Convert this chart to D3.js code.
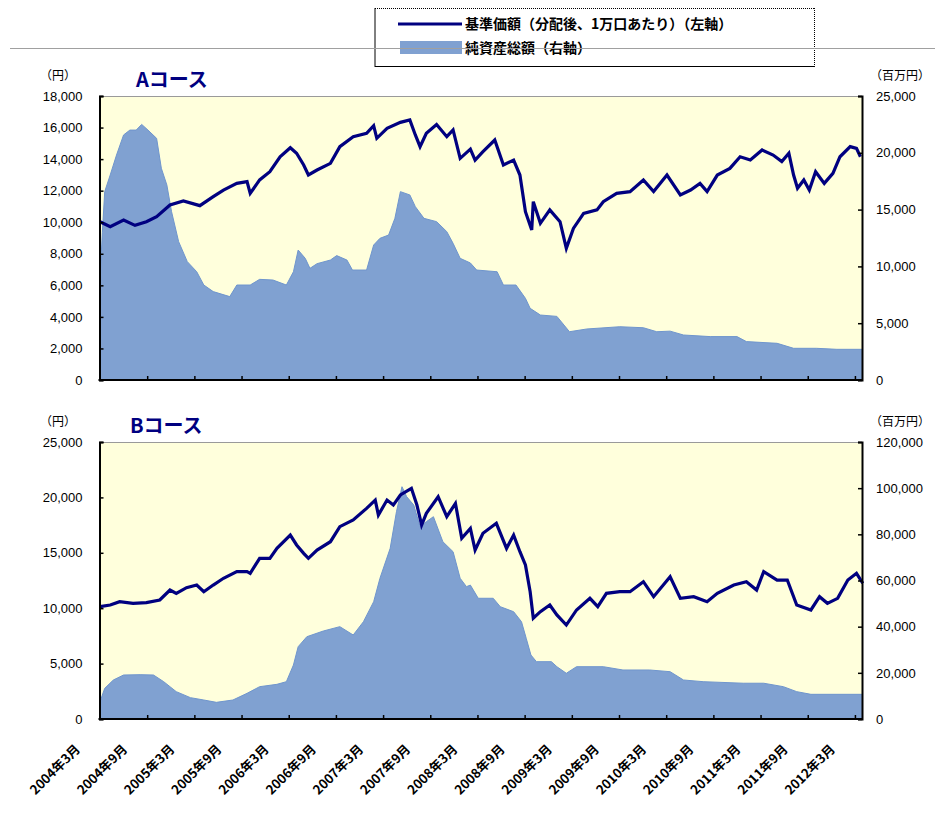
<!DOCTYPE html>
<html><head><meta charset="utf-8">
<script src="https://cdn.jsdelivr.net/npm/d3@7"></script>
<style>
body{margin:0;background:#fff;}
svg{display:block;}
</style></head>
<body><svg id="c" width="943" height="819"></svg>
<script>
// ---- data (x = months elapsed since 2004年3月) ----
const tickLabels = ["2004年3月","2004年9月","2005年3月","2005年9月","2006年3月","2006年9月","2007年3月","2007年9月","2008年3月","2008年9月","2009年3月","2009年9月","2010年3月","2010年9月","2011年3月","2011年9月","2012年3月"];

const navA_m = [0,1.3,3,4.45,5.9,7.2,8.9,10.6,12.7,14.4,15.7,17.4,18.7,19.1,20.3,21.6,22.9,24.2,25,25.9,26.5,27.6,29.3,30.5,32.2,33.9,34.8,35.2,36.5,38.2,39.4,40.1,40.7,41.5,42.8,44.1,44.9,45.8,47.1,47.7,48.7,50.2,51.3,52.6,53.4,54.1,54.9,55.1,56,57.2,58.5,59.3,60.2,61.5,63.2,64,65.7,67.4,69.1,70.4,72.1,73.8,75.1,76.3,77.2,78.5,80.1,81.4,82.7,84.2,85.6,86.7,87.6,88.2,88.7,89.5,90.2,91,92.1,93.2,94.1,95.4,96.2,96.7];
const navA = [10030,9720,10140,9800,10030,10350,11090,11350,11050,11620,12040,12460,12570,11830,12680,13200,14150,14720,14370,13630,13000,13310,13730,14790,15420,15640,16120,15320,15950,16330,16480,15530,14790,15640,16190,15420,15850,14050,14630,13940,14470,15210,13630,13940,12990,10670,9510,11300,9930,10780,10030,8350,9610,10560,10780,11300,11830,11940,12680,11940,12990,11730,12040,12460,11940,12990,13410,14150,13940,14580,14260,13840,14370,12990,12150,12680,12040,13200,12460,13100,14150,14790,14680,14150];

const assetA_m = [0,0.3,0.6,1.3,2.1,3,3.8,4.6,5.3,6.1,7.2,7.8,8.5,9.1,10,11.1,12.3,13.2,14.4,16.5,17.4,19.1,20.3,22,23.7,24.6,25.2,26.1,26.7,27.6,29.3,30.1,31.4,32.1,33.9,34.8,35.6,36.7,37.5,38.2,39.4,40.1,41.2,42.8,44.1,44.9,45.8,47.1,47.9,50.5,51.3,52.9,54.1,54.7,56,58.1,59,59.7,61.9,66.1,69.1,70.8,72.5,74.2,77.6,81,82.2,86.1,88.2,91.1,93.7,96.9];
const assetA = [8950,13000,16580,18050,19800,21570,22000,22000,22500,22000,21270,18640,17170,14820,12180,10420,9530,8360,7780,7340,8360,8360,8860,8800,8360,9530,11440,10710,9830,10240,10560,10950,10560,9680,9680,11880,12470,12760,14230,16580,16290,15260,14230,13940,13060,12030,10710,10300,9680,9530,8360,8360,7190,6310,5720,5600,4840,4250,4490,4690,4600,4250,4300,3960,3820,3820,3380,3230,2790,2790,2700,2700];

const navB_m = [0,1.3,2.5,4.2,5.9,7.6,8.9,9.7,11,12.3,13.2,14.4,15.7,17.4,18.7,19.1,20.3,21.6,22.5,24.2,25,25.9,26.5,27.6,29.3,30.5,32.2,33.9,35,35.4,36.5,37.3,38.2,39.6,40.3,40.9,41.5,43,44.1,45.2,46,47.1,47.7,48.7,50.4,51.7,52.6,53.4,54.1,54.7,55.1,56,57.2,58.1,59.3,60.6,62.3,63.3,64.4,66.1,67.4,69.1,70.4,72.5,73.8,75.5,77.2,78.5,80.6,82.2,83.5,84.4,86.1,87.4,88.6,90.4,91.5,92.5,93.8,95.1,96.2,97];
const navB = [10140,10290,10590,10440,10500,10740,11640,11340,11850,12090,11490,12090,12700,13300,13300,13150,14500,14500,15400,16600,15710,14950,14500,15250,16000,17360,17960,19010,19760,18410,19760,19310,20220,20820,19310,17510,18560,20060,18260,19460,16310,17200,15250,16760,17660,15400,16600,15100,13900,11490,9090,9690,10290,9390,8480,9840,10890,10140,11340,11490,11490,12390,11040,12840,10890,11040,10590,11340,12090,12390,11640,13300,12540,12540,10290,9840,11040,10440,10890,12540,13150,12250];

const assetB_m = [0,0.6,1.7,3,5.1,6.8,8.1,9.7,11.5,13.2,14.8,16.9,18.7,20.3,22.5,23.7,24.6,25.2,26.3,28.4,30.5,32.2,33.5,34.8,35.6,36.9,37.7,38.4,39,39.9,40.7,41.5,42.4,43.6,44.9,45.8,46.6,47.1,48.1,50,50.9,52.6,53.6,54.2,54.8,55.5,57.4,58.1,59.3,60.6,64,66.5,69.9,72.5,74.2,76.7,81.8,84.4,86.9,88.6,90.4,97];
const assetB = [7500,13280,16900,19060,19200,19060,16170,11840,9240,8230,7220,8230,11120,14000,15020,16170,23390,31320,35650,38120,40000,36390,42150,50810,60950,73940,89800,100630,96300,92700,83300,85480,87640,76800,72470,60950,57340,58000,52300,52300,48650,46480,42150,34960,27720,24830,24830,22660,19800,22660,22660,21230,21230,20490,16900,16170,15500,15500,14000,11840,10690,10690];

const leftTicksA = [0,2000,4000,6000,8000,10000,12000,14000,16000,18000];
const rightTicksA = [0,5000,10000,15000,20000,25000];
const leftTicksB = [0,5000,10000,15000,20000,25000];
const rightTicksB = [0,20000,40000,60000,80000,100000,120000];

const legendLine = "基準価額（分配後、1万口あたり）（左軸）";
const legendArea = "純資産総額（右軸）";

// ---- drawing ----
const svg = d3.select("#c");
const NUM = "'Liberation Sans', Arial, sans-serif";
const JP = "'Noto Sans CJK JP', sans-serif";
const BG = "#FFFFDC", AREA = "#80A1D1", AREAEDGE = "#6F95CD", NAVY = "#000080";

const x = d3.scaleLinear().domain([0, 96.9]).range([100, 862]);
const L = 99.5, R = 862;

function zip(m, v){ return m.map((d,i)=>({m:d, v:v[i]})); }

function panel(opt){
  const {top, bottom, lmax, rmax, lt, rt, nav, navM, ast, astM, title, titleX, showX} = opt;
  const yl = d3.scaleLinear().domain([0,lmax]).range([bottom, top]);
  const yr = d3.scaleLinear().domain([0,rmax]).range([bottom, top]);
  const g = svg.append("g");
  g.append("rect").attr("x",L).attr("y",top).attr("width",R-L).attr("height",bottom-top).attr("fill",BG);
  const ad = zip(astM, ast);
  g.append("path").datum(ad).attr("fill",AREA)
    .attr("d", d3.area().x(d=>x(d.m)).y0(bottom).y1(d=>yr(d.v)));
  g.append("path").datum(ad).attr("fill","none").attr("stroke",AREAEDGE).attr("stroke-width",1)
    .attr("d", d3.line().x(d=>x(d.m)).y(d=>yr(d.v)));
  g.append("path").datum(zip(navM, nav)).attr("fill","none").attr("stroke",NAVY)
    .attr("stroke-width",3.2).attr("stroke-linejoin","miter")
    .attr("d", d3.line().x(d=>x(d.m)).y(d=>yl(d.v)));
  // frame
  g.append("line").attr("x1",L).attr("x2",R).attr("y1",top+0.5).attr("y2",top+0.5).attr("stroke","#9a9a9a").attr("stroke-width",1);
  const la = g.append("g").attr("transform",`translate(${L},0)`)
    .call(d3.axisLeft(yl).tickValues(lt).tickSize(-4).tickPadding(17).tickFormat(d3.format(",")));
  const ra = g.append("g").attr("transform",`translate(${R},0)`)
    .call(d3.axisRight(yr).tickValues(rt).tickSize(-4).tickPadding(14).tickFormat(d3.format(",")));
  [la,ra].forEach(a=>{
    a.select(".domain").attr("stroke","#000").attr("stroke-width",2);
    a.selectAll(".tick line").attr("stroke","#000").attr("stroke-width",1.5);
    a.selectAll("text").attr("font-family",NUM).attr("font-size",13).attr("fill","#000");
  });
  const ba = g.append("g").attr("transform",`translate(0,${bottom})`)
    .call(d3.axisBottom(x).tickValues(d3.range(6,97,6)).tickSize(-4).tickFormat(""));
  ba.select(".domain").attr("stroke","#000").attr("stroke-width",2).attr("d",`M${L-1},0H${R+1}`);
  ba.selectAll(".tick line").attr("stroke","#000").attr("stroke-width",1.5);
  if(showX){
    tickLabels.forEach((t,i)=>{
      const tx = x(i*6) - 19, ty = bottom + 31;
      svg.append("text").attr("transform",`translate(${tx},${ty}) rotate(-45)`)
        .attr("text-anchor","end").attr("font-family",JP).attr("font-size",13).attr("font-weight","bold")
        .attr("fill","#000").text(t);
    });
  }
  svg.append("text").attr("x",titleX).attr("y",top-9).attr("font-family",JP).attr("font-size",20)
    .attr("font-weight","bold").attr("fill",NAVY).text(title);
  svg.append("text").attr("x",58).attr("y",top-16).attr("text-anchor","middle").attr("font-family",JP)
    .attr("font-size",12).attr("fill","#000").text("（円）");
  svg.append("text").attr("x",900).attr("y",top-16).attr("text-anchor","middle").attr("font-family",JP)
    .attr("font-size",12).attr("fill","#000").text("（百万円）");
}

panel({top:96, bottom:380, lmax:18000, rmax:25000, lt:leftTicksA, rt:rightTicksA,
  nav:navA, navM:navA_m, ast:assetA, astM:assetA_m, title:"Aコース", titleX:136, showX:false});
panel({top:442, bottom:719, lmax:25000, rmax:120000, lt:leftTicksB, rt:rightTicksB,
  nav:navB, navM:navB_m, ast:assetB, astM:assetB_m, title:"Bコース", titleX:130, showX:true});

// legend
const lg = svg.append("g");
lg.append("line").attr("x1",375).attr("x2",375).attr("y1",8).attr("y2",67).attr("stroke","#000");
lg.append("line").attr("x1",375).attr("x2",815).attr("y1",66.5).attr("y2",66.5).attr("stroke","#000");
lg.append("line").attr("x1",375).attr("x2",815).attr("y1",8.5).attr("y2",8.5).attr("stroke","#000").attr("stroke-dasharray","1,1");
lg.append("line").attr("x1",814.5).attr("x2",814.5).attr("y1",8).attr("y2",67).attr("stroke","#000").attr("stroke-dasharray","1,1");
lg.append("line").attr("x1",398).attr("x2",462).attr("y1",24).attr("y2",24).attr("stroke",NAVY).attr("stroke-width",3);
lg.append("rect").attr("x",400).attr("y",41).attr("width",62).attr("height",13).attr("fill",AREA);
lg.append("text").attr("x",465).attr("y",29).attr("font-family",JP).attr("font-size",14).attr("font-weight","bold").attr("fill","#000").text(legendLine);
lg.append("text").attr("x",465).attr("y",53).attr("font-family",JP).attr("font-size",14).attr("font-weight","bold").attr("fill","#000").text(legendArea);
svg.append("line").attr("x1",10).attr("x2",935).attr("y1",48.5).attr("y2",48.5).attr("stroke","#a0a0a0").attr("stroke-width",1);
</script></body></html>
